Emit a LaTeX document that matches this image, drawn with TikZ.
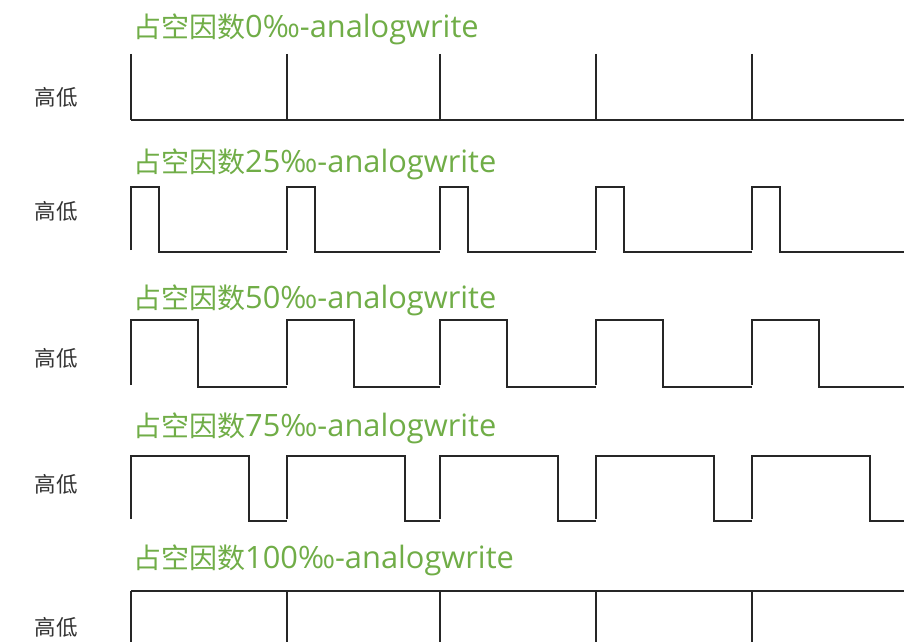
\documentclass[tikz,border=0pt]{standalone}
\usepackage{fontspec}
\setmainfont{Open Sans}[Scale=1.1]
\newfontfamily\cjk{Noto Sans CJK SC}
\definecolor{titlegreen}{RGB}{112,173,71}
\newcommand{\duty}[1]{{\cjk 占空因数}#1‰-analogwrite}
\tikzset{
  wave/.style={line width=2.3pt, color=black!85, line join=miter},
  title/.style={anchor=west, inner sep=0pt, text=titlegreen, font=\fontsize{28}{30}\selectfont},
  level/.style={inner sep=0pt, text=black!80, font=\cjk\fontsize{21.5}{24}\selectfont}
}
\begin{document}
\begin{tikzpicture}[x=1pt,y=-1pt]
  \useasboundingbox (0,0) rectangle (904,642);
  % titles and level labels
  \node[title] (t0) at (133,29) {\duty{0}};
  \node[title] (t25) at (133,164) {\duty{25}};
  \node[title] (t50) at (133,300) {\duty{50}};
  \node[title] (t75) at (133,428) {\duty{75}};
  \node[title] (t100) at (133,560) {\duty{100}};
  \foreach \y/\n in {97/a,211/b,358/c,484/d,627/e}
    \node[level] (lv\n) at (56,\y) {高低};
  % 0
  \draw[wave] (131,120) -- (904,120);
  \foreach \x in {131,287,440,596,752}
    \draw[wave] (\x,54) -- (\x,120);
  % 25
  \foreach \x/\next in {131/287,287/440,440/596,596/752,752/904}
    \draw[wave] (\x,250) -- (\x,187) -- ++(28,0) |- (\next,252);
  % 50
  \foreach \x/\next in {131/287,287/440,440/596,596/752,752/904}
    \draw[wave] (\x,385) -- (\x,320) -- ++(67,0) |- (\next,387);
  % 75
  \foreach \x/\next in {131/287,287/440,440/596,596/752,752/904}
    \draw[wave] (\x,519) -- (\x,456) -- ++(118,0) |- (\next,521);
  % 100
  \draw[wave] (131,591) -- (904,591);
  \foreach \x in {131,287,440,596,752}
    \draw[wave] (\x,591) -- (\x,642);
\end{tikzpicture}
\end{document}
